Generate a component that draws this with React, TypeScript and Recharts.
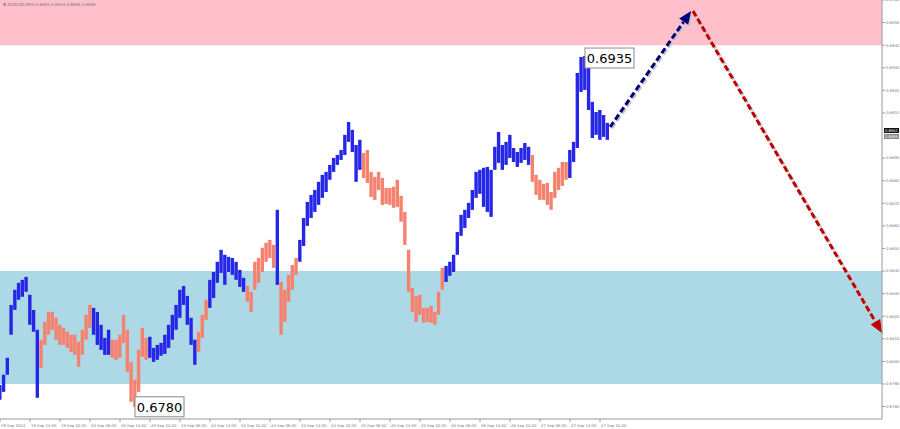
import { ComposedChart, Bar, Cell, XAxis, YAxis, ReferenceArea, ReferenceLine, ReferenceDot } from "recharts";

// AUDUSD bars, one per hour, highs/lows
const highs = [
  0.67896, 0.67941, 0.68016, 0.6825, 0.68317, 0.68348, 0.68361, 0.68374, 0.68295, 0.68228,
  0.6814, 0.68096, 0.68175, 0.68219, 0.68219, 0.68193, 0.68162, 0.68149, 0.68131, 0.68118,
  0.68118, 0.68087, 0.6814, 0.68206, 0.6825, 0.68237, 0.68219, 0.68162, 0.68104, 0.6814,
  0.68096, 0.68096, 0.68118, 0.68206, 0.6814, 0.67998, 0.67919, 0.68051, 0.68149, 0.68104,
  0.68109, 0.6806, 0.68073, 0.68082, 0.68118, 0.68162, 0.68206, 0.6825, 0.68317, 0.68334,
  0.6829, 0.68193, 0.68096, 0.68131, 0.68206, 0.68273, 0.68361, 0.68396, 0.68441, 0.68494,
  0.68472, 0.68463, 0.68458, 0.68441, 0.68405, 0.6837, 0.68334, 0.68308, 0.68441, 0.68458,
  0.68503, 0.68525, 0.68538, 0.68516, 0.68671, 0.68352, 0.68317, 0.68383, 0.68427, 0.68458,
  0.68538, 0.68635, 0.68706, 0.68737, 0.68759, 0.68795, 0.68826, 0.68839, 0.6887, 0.68901,
  0.68914, 0.68936, 0.69003, 0.6906, 0.69025, 0.68958, 0.68981, 0.68923, 0.68936, 0.68839,
  0.68817, 0.68839, 0.68812, 0.68768, 0.68768, 0.68773, 0.68804, 0.68733, 0.68662, 0.68494,
  0.68326, 0.6829, 0.68295, 0.68237, 0.68237, 0.68246, 0.68219, 0.68308, 0.68414, 0.68423,
  0.68441, 0.68472, 0.68573, 0.68649, 0.68671, 0.68702, 0.68759, 0.68839, 0.68848, 0.68857,
  0.68861, 0.68848, 0.6895, 0.69016, 0.68958, 0.68972, 0.69003, 0.68945, 0.68927, 0.68945,
  0.68967, 0.6895, 0.68914, 0.68826, 0.68804, 0.68786, 0.6879, 0.6875, 0.68839, 0.68857,
  0.68883, 0.68883, 0.68936, 0.68972, 0.69277, 0.69348, 0.69352, 0.69299, 0.69149, 0.69104,
  0.69113, 0.69091, 0.69056,
];
const lows = [
  0.6783, 0.67865, 0.67941, 0.68118, 0.68228, 0.68273, 0.68286, 0.68308, 0.68162, 0.68131,
  0.67839, 0.67972, 0.68073, 0.68118, 0.6814, 0.68096, 0.68073, 0.68073, 0.6806, 0.68042,
  0.68029, 0.67976, 0.68029, 0.68096, 0.68149, 0.68118, 0.68073, 0.68051, 0.68029, 0.68029,
  0.68016, 0.68007, 0.68016, 0.68082, 0.67954, 0.67821, 0.67799, 0.67865, 0.6802, 0.68007,
  0.68016, 0.67998, 0.68007, 0.68025, 0.68033, 0.6806, 0.68096, 0.6814, 0.68193, 0.6825,
  0.68162, 0.68073, 0.67985, 0.68042, 0.68104, 0.68184, 0.68237, 0.68281, 0.68348, 0.68392,
  0.68339, 0.68396, 0.68383, 0.68361, 0.6833, 0.68308, 0.68264, 0.68219, 0.68317, 0.68348,
  0.68396, 0.68441, 0.68458, 0.68414, 0.68339, 0.68118, 0.68175, 0.68264, 0.68317, 0.68383,
  0.68441, 0.68511, 0.686, 0.68635, 0.68662, 0.68693, 0.68724, 0.6875, 0.68804, 0.68839,
  0.6887, 0.68892, 0.68914, 0.68972, 0.68927, 0.68795, 0.68848, 0.68812, 0.6879, 0.68728,
  0.68715, 0.68759, 0.68693, 0.68697, 0.68693, 0.6868, 0.68684, 0.68618, 0.68516, 0.68308,
  0.68219, 0.68175, 0.68206, 0.68171, 0.68175, 0.68171, 0.68162, 0.68206, 0.68317, 0.68352,
  0.68379, 0.68396, 0.68472, 0.68556, 0.68591, 0.68635, 0.68671, 0.68724, 0.68742, 0.68684,
  0.68662, 0.6864, 0.68848, 0.68879, 0.68848, 0.6887, 0.68901, 0.68883, 0.68861, 0.68879,
  0.68892, 0.6887, 0.68795, 0.68737, 0.68715, 0.68715, 0.68693, 0.68671, 0.68724, 0.68759,
  0.68777, 0.68804, 0.68812, 0.68883, 0.68945, 0.69193, 0.69202, 0.69113, 0.68989, 0.69003,
  0.68981, 0.68994, 0.68981,
];
// first bar of each wave; waves alternate up (blue) / down (salmon)
const waveStarts = [0, 11, 25, 30, 40, 53, 56, 66, 74, 75, 80, 97, 119, 142, 152];

const timeLabels = [
  "19 Sep 2024", "19 Sep 14:00", "19 Sep 22:00", "20 Sep 06:00", "20 Sep 14:00", "20 Sep 22:00",
  "23 Sep 06:00", "23 Sep 14:00", "23 Sep 22:00", "24 Sep 06:00", "24 Sep 14:00", "24 Sep 22:00",
  "25 Sep 06:00", "25 Sep 14:00", "25 Sep 22:00", "26 Sep 06:00", "26 Sep 14:00", "26 Sep 22:00",
  "27 Sep 06:00", "27 Sep 14:00", "27 Sep 22:00",
];
const priceLabels = [
  "0.6960", "0.6950", "0.6940", "0.6930", "0.6920", "0.6910", "0.6890", "0.6880", "0.6870",
  "0.6860", "0.6850", "0.6840", "0.6830", "0.6820", "0.6810", "0.6800", "0.6790", "0.6780",
];

const resistanceZone = [0.694, 0.696];
const supportZone = [0.679, 0.684];
const forecastUp = [{ x: 162.7, y: 0.69038 }, { x: 184.3, y: 0.69551 }];
const forecastDown = [{ x: 184.8, y: 0.69551 }, { x: 235.2, y: 0.68126 }];
const highMark = { x: 156, y: 0.69352, text: "0.6935" };
const lowMark = { x: 36, y: 0.67799, text: "0.6780" };
const bid = 0.6902;
const ask = 0.6899;

const BLUE = "#2626e6";
const SALMON = "#f5826f";
const FONT = "DejaVu Sans, sans-serif";

const data = highs.map((h, i) => ({ i, range: [lows[i], h] }));
const waveOf = (i: number) => waveStarts.filter((s) => s <= i).length - 1;

const makeArrow = (color: string) => (props: any) => {
  const { x1, y1, x2, y2 } = props;
  const dx = x2 - x1;
  const dy = y2 - y1;
  const len = Math.hypot(dx, dy);
  const ux = dx / len;
  const uy = dy / len;
  const head = 13;
  const half = 5.5;
  const bx = x2 - ux * head;
  const by = y2 - uy * head;
  const tri = (o: number) =>
    `${x2 + o},${y2 + o} ${bx - uy * half + o},${by + ux * half + o} ${bx + uy * half + o},${by - ux * half + o}`;
  return (
    <g>
      <line x1={x1 + 1.5} y1={y1 + 1.5} x2={bx + 1.5} y2={by + 1.5} stroke="#c4c4c4" strokeWidth={3} strokeDasharray="6 3" />
      <line x1={x1} y1={y1} x2={bx} y2={by} stroke={color} strokeWidth={3} strokeDasharray="6 3" />
      <polygon points={tri(1.5)} fill="#c4c4c4" />
      <polygon points={tri(0)} fill={color} />
    </g>
  );
};

const priceBox = (text: string, dy: number) => (props: any) => {
  const { cx, cy } = props;
  return (
    <g>
      <rect x={cx} y={cy + dy} width={49} height={20} fill="#fff" stroke="#888" strokeWidth={1} />
      <text x={cx + 24.5} y={cy + dy + 15} textAnchor="middle" fontSize={13} fontFamily={FONT} fill="#000">
        {text}
      </text>
    </g>
  );
};

const priceTags = (props: any) => {
  const { cx, cy } = props;
  return (
    <g fontFamily={FONT} fontSize={3.6}>
      <rect x={cx + 2} y={cy - 3} width={15} height={5} fill="#111" />
      <text x={cx + 3} y={cy + 1} fill="#fff">{bid.toFixed(4)}</text>
      <rect x={cx + 2} y={cy + 3} width={15} height={5} fill="#888" />
      <text x={cx + 3} y={cy + 7} fill="#fff">{ask.toFixed(4)}</text>
    </g>
  );
};

const TimeTick = (props: any) => {
  const { x, y, payload } = props;
  const label = timeLabels[Math.round(payload.value / 8)];
  return (
    <g>
      <line x1={x} y1={y} x2={x} y2={y + 3} stroke="#999" />
      <text x={x + 1} y={y + 8} fontSize={3.8} fontFamily={FONT} fill="#777">
        {label}
      </text>
    </g>
  );
};

export default function App() {
  return (
    <div style={{ position: "absolute", left: 0, top: 0, width: 900, height: 429, background: "#fff" }}>
      <ComposedChart width={900} height={429} data={data} margin={{ top: 0, right: 0, bottom: 0, left: 0 }}>
        <ReferenceArea y1={resistanceZone[0]} y2={resistanceZone[1]} fill="#ffc0cb" fillOpacity={1} stroke="none" />
        <ReferenceArea y1={supportZone[0]} y2={supportZone[1]} fill="#add8e6" fillOpacity={1} stroke="none" />
        <XAxis
          dataKey="i"
          type="number"
          domain={[0, 235.2]}
          allowDataOverflow
          ticks={timeLabels.map((_, k) => k * 8)}
          tick={<TimeTick />}
          tickLine={false}
          tickSize={0}
          tickMargin={0}
          height={10}
          stroke="#999"
          interval={0}
        />
        <YAxis
          orientation="right"
          type="number"
          domain={[0.67745, 0.696]}
          allowDataOverflow
          ticks={priceLabels.map(Number)}
          tickFormatter={(v: number) => v.toFixed(4)}
          tick={{ fontSize: 3.8, fill: "#777", fontFamily: FONT }}
          tickSize={3}
          tickMargin={1}
          width={18}
          stroke="#999"
          interval={0}
        />
        <Bar dataKey="range" barSize={3.4} isAnimationActive={false}>
          {data.map((d) => (
            <Cell key={d.i} fill={waveOf(d.i) % 2 === 0 ? BLUE : SALMON} />
          ))}
        </Bar>
        <ReferenceLine segment={forecastUp} shape={makeArrow("#00007a")} />
        <ReferenceLine segment={forecastDown} shape={makeArrow("#c00000")} />
        <ReferenceDot x={highMark.x} y={highMark.y} shape={priceBox(highMark.text, -8)} />
        <ReferenceDot x={lowMark.x} y={lowMark.y} shape={priceBox(lowMark.text, -10)} />
        <ReferenceDot x={235.2} y={bid} shape={priceTags} />
      </ComposedChart>
      <svg width={110} height={10} style={{ position: "absolute", left: 0, top: 0 }}>
        <text x={3} y={6} fontSize={4} fontFamily={FONT} fill="#777">
          ▼ AUDUSD,M30  0.6902 0.6903 0.6898 0.6899
        </text>
      </svg>
    </div>
  );
}
